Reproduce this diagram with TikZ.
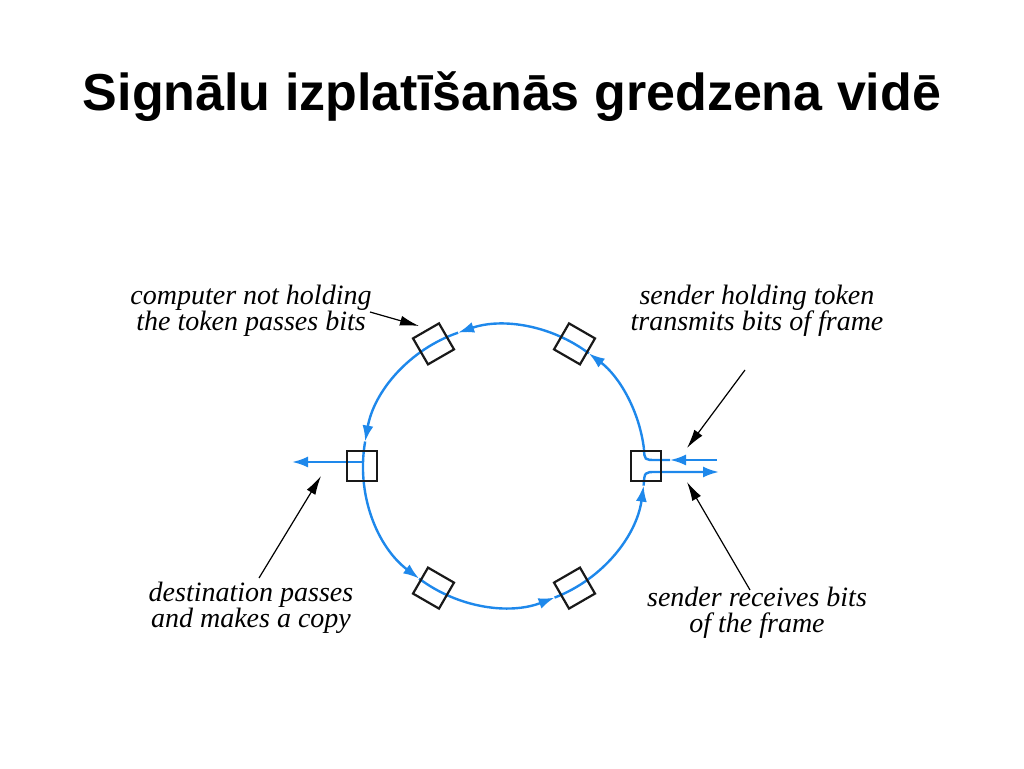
\documentclass[tikz,border=0pt]{standalone}
\usepackage{fontspec}
\setmainfont{Liberation Serif}
\newfontfamily\titlefont{Liberation Sans}
\usetikzlibrary{arrows.meta,calc}
\definecolor{ringblue}{RGB}{30,136,235}
\definecolor{boxgray}{RGB}{25,25,25}
\begin{document}
\begin{tikzpicture}[x=1pt,y=1pt,
  ring/.style={draw=ringblue,line width=2.4pt},
  rtip/.style={-{Latex[length=16pt,width=11pt]}},
  sq/.style={draw=boxgray,line width=2.2pt,minimum size=30pt,inner sep=0pt},
  note/.style={align=center,font=\fontsize{28}{26}\selectfont\itshape},
  ptr/.style={draw=black,line width=1.2pt,-{Latex[length=19pt,width=10pt]}}]
\useasboundingbox (0,0) rectangle (1024,768);
\node[anchor=base,font=\titlefont\fontsize{52}{52}\selectfont\bfseries] (title) at (512,657) {Signālu izplatīšanās gredzena vidē};
\coordinate (c) at (504,302);
\def\ringR{141}
\foreach \a in {7,53,109,170,233,291,352}{\coordinate (a\a) at ($(c)+(\a:\ringR)$);}
% sender side
\coordinate (sendin) at (717,308);
\coordinate (sendtip) at (670,308);
\coordinate (bend1) at (656,308);
\coordinate (bend2) at (656,296);
\coordinate (recvout) at (719,296);
\coordinate (dstin) at (362,306);
\coordinate (dstout) at (292,306);
\draw[ring,rtip] (sendin) -- (sendtip);
\draw[ring] (sendtip) -- (bend1) .. controls (644.5,308) .. (a7);
\draw[ring,rtip] (a7) arc[start angle=7,end angle=53,radius=\ringR];
\draw[ring,rtip] (a53) arc[start angle=53,end angle=109,radius=\ringR];
\draw[ring,rtip] (a109) arc[start angle=109,end angle=170,radius=\ringR];
\draw[ring,rtip] (a170) arc[start angle=170,end angle=233,radius=\ringR];
\draw[ring,rtip] (a233) arc[start angle=233,end angle=291,radius=\ringR];
\draw[ring,rtip] (a291) arc[start angle=291,end angle=352,radius=\ringR];
\draw[ring,rtip] (a352) .. controls (644.5,296) .. (bend2) -- (recvout);
\draw[ring,rtip] (dstin) -- (dstout);
% stations
\node[sq] (S0) at (646,302) {};
\node[sq] (S180) at (362,302) {};
\foreach \a in {60,120,240,300}{\node[sq,rotate=\a] (S\a) at ($(c)+(\a:\ringR)$) {};}
% notes
\node[note] (n1) at (251,457) {computer not holding\\the token passes bits};
\node[note] (n2) at (757,457) {sender holding token\\transmits bits of frame};
\node[note] (n3) at (251,160) {destination passes\\and makes a copy};
\node[note] (n4) at (757,155) {sender receives bits\\of the frame};
\coordinate (t1) at (419,442);
\coordinate (f1) at (370,456);
\coordinate (t2) at (687,320);
\coordinate (f2) at (745,398);
\coordinate (t3) at (687,286);
\coordinate (f3) at (750,178);
\coordinate (t4) at (321,292);
\coordinate (f4) at (259,190);
\draw[ptr] (f1) -- (t1);
\draw[ptr] (f2) -- (t2);
\draw[ptr] (f3) -- (t3);
\draw[ptr] (f4) -- (t4);
\end{tikzpicture}
\end{document}
